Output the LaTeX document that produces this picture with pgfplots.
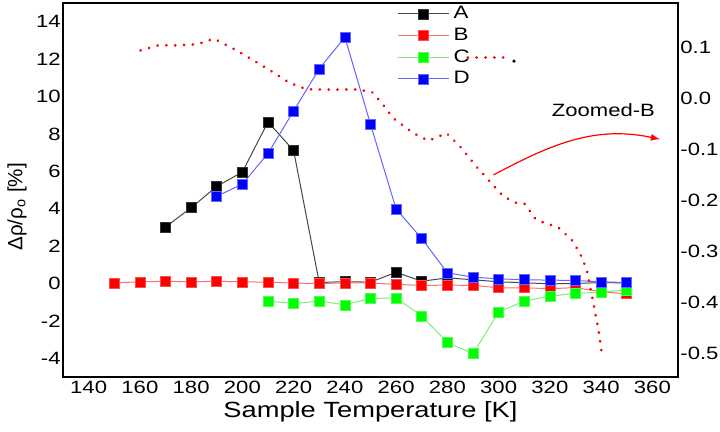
\documentclass[border=0pt]{standalone}
\usepackage{pgfplots}
\pgfplotsset{compat=1.18}
\usepackage{fontspec}
\setmainfont{Liberation Sans}[FakeStretch=1.24]
\newfontfamily\plainfont{Liberation Sans}
\definecolor{lineA}{RGB}{70,70,70}
\definecolor{lineB}{RGB}{255,110,110}
\definecolor{lineC}{RGB}{120,240,120}
\definecolor{lineD}{RGB}{100,100,255}
\definecolor{mA}{RGB}{0,0,0}
\definecolor{mB}{RGB}{255,0,0}
\definecolor{mC}{RGB}{0,255,0}
\definecolor{mD}{RGB}{0,0,255}
\begin{document}
\begin{tikzpicture}
\pgfplotsset{
  common/.style={
    scale only axis, width=307.5pt, height=187pt,
    at={(0,0)}, anchor=south west,
    xmin=130, xmax=370,
    tick style={draw=none},
    /pgf/number format/assume math mode=true,
    ticklabel style={font=\fontsize{8.9}{10}\selectfont},
    axis line style={line width=0.9pt},
  },
}
\begin{axis}[common,
  ymin=-5, ymax=15,
  xtick={140,160,...,360},
  ytick={-4,-2,...,14},
  xtick pos=bottom, ytick pos=left,
  yticklabel style={inner sep=1pt},
  xticklabel style={anchor=base, yshift=-8.2pt, inner sep=0pt},
  xlabel={Sample Temperature [K]},
  ylabel={\plainfont Δρ/ρ\textsubscript{o} [\%]},
  xlabel style={font=\fontsize{11}{13}\selectfont, at={(axis description cs:0.5,0)}, anchor=base, yshift=-20.5pt},
  ylabel style={font=\fontsize{10.3}{12}\selectfont, at={(axis description cs:-0.0748,0.455)}, anchor=center, rotate=0},
  legend style={draw=none, fill=none, at={(0.543,1.003)}, anchor=north west,
    font=\fontsize{9}{10}\selectfont, row sep=-0.9pt, inner sep=0pt},
  legend cell align=left,
  legend image code/.code={\draw[mark repeat=2,mark phase=2] plot coordinates {(0cm,0cm)(0.45cm,0cm)(0.9cm,0cm)};},
]
\coordinate (sw) at (rel axis cs:0,0);
\addplot[color=lineA, line width=0.5pt, mark=square*, mark size=2.5pt, mark options={solid, fill=mA, draw=mA!80!white, line width=0.3pt}] coordinates {
(170,3.02)(180,4.05)(190,5.19)(200,5.96)(210,8.64)(220,7.11)(230,0.05)(240,0.1)(250,0.07)(260,0.6)(270,0.12)(280,0.3)(290,0.2)(300,0.09)(310,0.04)(320,-0.02)(330,0.0)(340,0.05)(350,0.03)};
\addlegendentry{A}
\addplot[color=lineB, line width=0.5pt, mark=square*, mark size=2.5pt, mark options={solid, fill=mB, draw=mB!70!white, line width=0.3pt}] coordinates {
(150,0.03)(160,0.09)(170,0.12)(180,0.09)(190,0.12)(200,0.09)(210,0.07)(220,0.02)(230,0.0)(240,0.03)(250,0.03)(260,-0.05)(270,-0.1)(280,-0.09)(290,-0.1)(300,-0.23)(310,-0.23)(320,-0.28)(330,-0.22)(340,-0.44)(350,-0.55)};
\addlegendentry{B}
\addplot[color=lineC, line width=0.5pt, mark=square*, mark size=2.5pt, mark options={solid, fill=mC, draw=mC!70!white, line width=0.3pt}] coordinates {
(210,-0.94)(220,-1.07)(230,-0.94)(240,-1.14)(250,-0.8)(260,-0.77)(270,-1.74)(280,-3.16)(290,-3.75)(300,-1.53)(310,-0.94)(320,-0.68)(330,-0.53)(340,-0.46)(350,-0.34)};
\addlegendentry{C}
\addplot[color=lineD, line width=0.5pt, mark=square*, mark size=2.5pt, mark options={solid, fill=mD, draw=mD!60!white, line width=0.3pt}] coordinates {
(190,4.66)(200,5.32)(210,6.95)(220,9.23)(230,11.48)(240,13.17)(250,8.52)(260,3.98)(270,2.4)(280,0.57)(290,0.34)(300,0.25)(310,0.2)(320,0.18)(330,0.16)(340,0.09)(350,0.05)};
\addlegendentry{D}
\end{axis}
\begin{axis}[common,
  ymin=-0.547, ymax=0.186,
  axis y line*=right, axis x line=none,
  ytick={-0.5,-0.4,-0.3,-0.2,-0.1,0,0.1},
  yticklabel style={anchor=west, inner sep=1pt, /pgf/number format/.cd, fixed, fixed zerofill, precision=1},
]
\addplot[red, line width=1.5pt, line cap=round, dash pattern=on 0.01pt off 4.4pt] coordinates {
(160.3,0.093)(167.2,0.103)(174.4,0.103)(182.2,0.105)(189,0.116)(197.8,0.093)(209.5,0.058)(218.6,0.029)(225.1,0.017)(235.5,0.016)(243.3,0.017)(250.5,0.012)(254.4,-0.010)(258.9,-0.040)(266.7,-0.069)(272.6,-0.084)(279.7,-0.069)(284.9,-0.095)(291.4,-0.135)(296.6,-0.164)(301.8,-0.193)(307,-0.206)(310.3,-0.208)(314.2,-0.236)(316.8,-0.243)(323.3,-0.254)(328.5,-0.278)(331.8,-0.305)(334.4,-0.337)(337,-0.403)(339,-0.455)(340.2,-0.499)};
\addplot[red, line width=1.5pt, line cap=round, dash pattern=on 0.01pt off 4.4pt] coordinates {(288,0.080)(302,0.080)};
\addplot[only marks, mark=*, mark size=0.6pt, black] coordinates {(306,0.072)};
\draw[red, line width=0.6pt, -latex] (axis cs:298,-0.151) to[out=28,in=168] (axis cs:363,-0.081);
\node[font=\fontsize{8.9}{10}\selectfont] at (axis cs:340.9,-0.024) {Zoomed-B};
\end{axis}
\pgfresetboundingbox
\path ([shift={(-31.5pt,-27.5pt)}]sw) rectangle ([shift={(328.5pt,188.5pt)}]sw);
\end{tikzpicture}
\end{document}
